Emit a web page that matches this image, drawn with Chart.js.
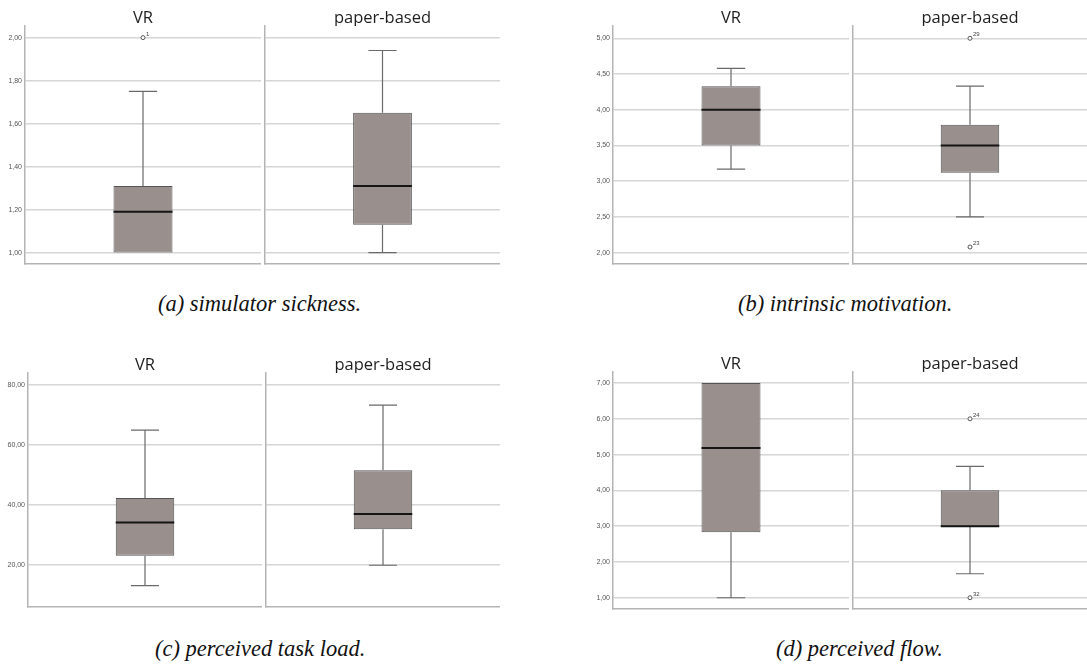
<!DOCTYPE html>
<html>
<head>
<meta charset="utf-8">
<script src="https://cdn.jsdelivr.net/npm/chart.js@4.4.1/dist/chart.umd.min.js"></script>
<style>
  html, body { margin: 0; padding: 0; background: #fff; }
  body { width: 1087px; height: 667px; position: relative; overflow: hidden; }
  canvas { position: absolute; }
  #a0 { left: 0; top: 0; }    #a1 { left: 262px; top: 0; }
  #b0 { left: 588px; top: 0; } #b1 { left: 850px; top: 0; }
  #c0 { left: 0; top: 347px; } #c1 { left: 263px; top: 347px; }
  #d0 { left: 588px; top: 346px; } #d1 { left: 850px; top: 346px; }
  .cap { position: absolute; font-family: "Liberation Serif", "DejaVu Serif", serif; font-style: italic;
         font-size: 22.5px; line-height: 1; color: #111; white-space: nowrap; }
</style>
</head>
<body>
<canvas id="a0" width="261" height="266"></canvas>
<canvas id="a1" width="238" height="266"></canvas>
<canvas id="b0" width="261" height="266"></canvas>
<canvas id="b1" width="237" height="266"></canvas>
<canvas id="c0" width="262" height="262"></canvas>
<canvas id="c1" width="237" height="262"></canvas>
<canvas id="d0" width="261" height="265"></canvas>
<canvas id="d1" width="237" height="265"></canvas>
<div class="cap" style="left:158px; top:293px;">(a) simulator sickness.</div>
<div class="cap" style="left:738px; top:293px;">(b) intrinsic motivation.</div>
<div class="cap" style="left:155px; top:638px;">(c) perceived task load.</div>
<div class="cap" style="left:776px; top:638px;">(d) perceived flow.</div>
<script>
// ---- Data ----
const GROUPS = ["VR", "paper-based"];

// (a) simulator sickness
const SICK_MIN = [1.00, 1.00];
const SICK_Q1 = [1.00, 1.13];
const SICK_MED = [1.19, 1.31];
const SICK_Q3 = [1.31, 1.65];
const SICK_MAX = [1.75, 1.94];
const SICK_OUT = [[2.00], []];
const SICK_OUT_IDS = [["1"], []];
const SICK_TICKS = [1.0, 1.2, 1.4, 1.6, 1.8, 2.0];
const SICK_RANGE = [0.947, 2.054];

// (b) intrinsic motivation
const MOT_MIN = [3.17, 2.50];
const MOT_Q1 = [3.50, 3.12];
const MOT_MED = [4.00, 3.50];
const MOT_Q3 = [4.33, 3.79];
const MOT_MAX = [4.58, 4.33];
const MOT_OUT = [[], [5.00, 2.08]];
const MOT_OUT_IDS = [[], ["29", "23"]];
const MOT_TICKS = [2.0, 2.5, 3.0, 3.5, 4.0, 4.5, 5.0];
const MOT_RANGE = [1.842, 5.172];

// (c) perceived task load
const LOAD_MIN = [13.2, 20.0];
const LOAD_Q1 = [23.2, 32.0];
const LOAD_MED = [34.2, 37.1];
const LOAD_Q3 = [42.4, 51.6];
const LOAD_MAX = [65.0, 73.3];
const LOAD_OUT = [[], []];
const LOAD_OUT_IDS = [[], []];
const LOAD_TICKS = [20, 40, 60, 80];
const LOAD_RANGE = [6.1, 84.0];

// (d) perceived flow
const FLOW_MIN = [1.00, 1.67];
const FLOW_Q1 = [2.83, 3.00];
const FLOW_MED = [5.18, 3.00];
const FLOW_Q3 = [7.00, 4.00];
const FLOW_MAX = [7.00, 4.67];
const FLOW_OUT = [[], [6.00, 1.00]];
const FLOW_OUT_IDS = [[], ["24", "32"]];
const FLOW_TICKS = [1, 2, 3, 4, 5, 6, 7];
const FLOW_RANGE = [0.685, 7.307];

const PANELS = [
  { ids: ["a0", "a1"], yw: 25, min: SICK_MIN, q1: SICK_Q1, med: SICK_MED, q3: SICK_Q3, max: SICK_MAX, out: SICK_OUT, outIds: SICK_OUT_IDS, ticks: SICK_TICKS, range: SICK_RANGE },
  { ids: ["b0", "b1"], yw: 25, min: MOT_MIN, q1: MOT_Q1, med: MOT_MED, q3: MOT_Q3, max: MOT_MAX, out: MOT_OUT, outIds: MOT_OUT_IDS, ticks: MOT_TICKS, range: MOT_RANGE },
  { ids: ["c0", "c1"], yw: 28, min: LOAD_MIN, q1: LOAD_Q1, med: LOAD_MED, q3: LOAD_Q3, max: LOAD_MAX, out: LOAD_OUT, outIds: LOAD_OUT_IDS, ticks: LOAD_TICKS, range: LOAD_RANGE },
  { ids: ["d0", "d1"], yw: 25, min: FLOW_MIN, q1: FLOW_Q1, med: FLOW_MED, q3: FLOW_Q3, max: FLOW_MAX, out: FLOW_OUT, outIds: FLOW_OUT_IDS, ticks: FLOW_TICKS, range: FLOW_RANGE },
];

const GRID = "#d6d6d6";
const AXIS = "#b4b4b4";
const fmt = (v) => Number(v).toFixed(2).replace(".", ",");
// no extra inset for labels: the plot areas of a pair must line up exactly
const noPad = (s) => { s.paddingTop = 0; s.paddingBottom = 0; s.paddingLeft = 0; s.paddingRight = 0; };

// whiskers, median and outlier case numbers, placed with the chart's own scales
const boxParts = {
  id: "boxParts",
  afterDatasetsDraw(chart, args, o) {
    const bar = chart.getDatasetMeta(0).data[0];
    const y = chart.scales.y;
    const ctx = chart.ctx;
    const x = bar.x, half = bar.width / 2, cap = bar.width * 0.24;
    const yMin = y.getPixelForValue(o.min), yMax = y.getPixelForValue(o.max);
    const yQ1 = y.getPixelForValue(o.q1), yQ3 = y.getPixelForValue(o.q3);
    const yMed = y.getPixelForValue(o.med);
    ctx.save();
    ctx.strokeStyle = "#6a6a6a";
    ctx.lineWidth = 1.2;
    ctx.beginPath();
    if (o.max > o.q3) { ctx.moveTo(x, yQ3); ctx.lineTo(x, yMax); ctx.moveTo(x - cap, yMax); ctx.lineTo(x + cap, yMax); }
    if (o.min < o.q1) { ctx.moveTo(x, yQ1); ctx.lineTo(x, yMin); ctx.moveTo(x - cap, yMin); ctx.lineTo(x + cap, yMin); }
    ctx.stroke();
    ctx.strokeStyle = "#151515";
    ctx.lineWidth = 2;
    ctx.beginPath();
    ctx.moveTo(x - half, yMed); ctx.lineTo(x + half, yMed);
    ctx.stroke();
    ctx.fillStyle = "#444";
    ctx.font = "6px Arial, 'Liberation Sans', sans-serif";
    ctx.textBaseline = "alphabetic";
    const pts = chart.getDatasetMeta(1).data;
    pts.forEach((p, i) => { ctx.fillText(o.outIds[i], p.x + 3, p.y - 2); });
    ctx.restore();
  },
};

function makeChart(panel, g) {
  const left = g === 0;
  const label = GROUPS[g];
  new Chart(document.getElementById(panel.ids[g]), {
    type: "bar",
    data: {
      labels: [label],
      datasets: [
        { data: [[panel.q1[g], panel.q3[g]]], backgroundColor: "#998f8d", borderColor: "#555",
          borderWidth: 1, borderSkipped: false, barPercentage: 0.25, categoryPercentage: 1 },
        { type: "line", data: panel.out[g].map((v) => ({ x: label, y: v })), showLine: false, clip: false,
          pointRadius: 2, pointBorderWidth: 1, pointBorderColor: "#555", pointBackgroundColor: "#fff" },
      ],
    },
    plugins: [boxParts],
    options: {
      responsive: false, animation: false, devicePixelRatio: 1,
      layout: { padding: 0, autoPadding: false },
      plugins: {
        legend: { display: false }, tooltip: { enabled: false },
        boxParts: { min: panel.min[g], q1: panel.q1[g], med: panel.med[g], q3: panel.q3[g], max: panel.max[g], outIds: panel.outIds[g] },
      },
      scales: {
        x: {
          type: "category", position: "bottom",
          ticks: { display: false }, grid: { display: false },
          border: { display: true, color: AXIS, width: 1.5 },
          afterFit: (s) => { s.height = 2; noPad(s); },
        },
        x2: {
          type: "category", position: "top", labels: [label],
          grid: { display: false, drawTicks: false }, border: { display: false },
          ticks: { color: "#1e1e1e", padding: -2, font: { family: "'Open Sans', sans-serif", size: 16.5 } },
          afterFit: (s) => { s.height = 26; noPad(s); },
        },
        y: {
          min: panel.range[0], max: panel.range[1],
          afterBuildTicks: (ax) => { ax.ticks = panel.ticks.map((v) => ({ value: v })); },
          ticks: { display: left, color: "#555", padding: 3, font: { family: "Arial, 'Liberation Sans', sans-serif", size: 7 }, callback: (v) => fmt(v) },
          grid: { color: GRID, lineWidth: 1.5, drawTicks: false },
          border: { display: true, color: AXIS, width: 1.5 },
          afterFit: (s) => { s.width = left ? panel.yw : 3; noPad(s); },
        },
      },
    },
  });
}

PANELS.forEach((p) => { makeChart(p, 0); makeChart(p, 1); });
</script>
</body>
</html>
